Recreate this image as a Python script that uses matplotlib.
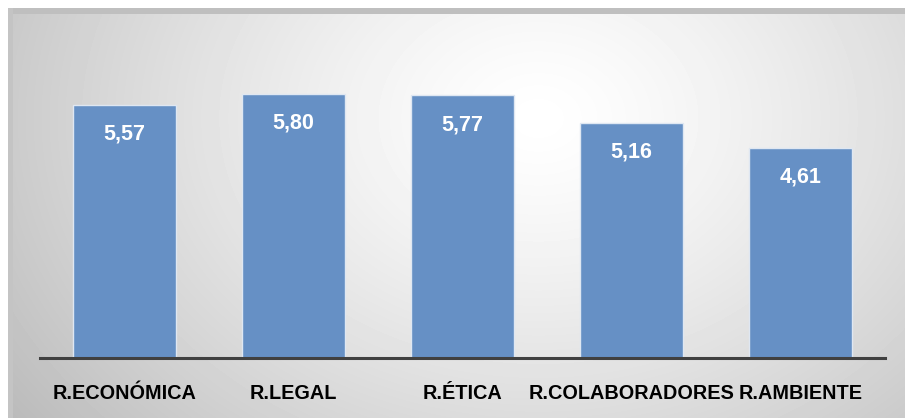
import numpy as np
import matplotlib.pyplot as plt
from matplotlib.patches import Rectangle

categorias = ['R.ECONÓMICA', 'R.LEGAL', 'R.ÉTICA', 'R.COLABORADORES', 'R.AMBIENTE']
valores = [5.57, 5.80, 5.77, 5.16, 4.61]
etiquetas = ['5,57', '5,80', '5,77', '5,16', '4,61']

W, H = 905, 418
fig = plt.figure(figsize=(W / 100, H / 100), dpi=100)
fig.patch.set_facecolor('white')

# fondo con degradado radial
bg = fig.add_axes([8 / W, 0, 1 - 8 / W, 1 - 8 / H])
bg.set_axis_off()
yy, xx = np.mgrid[0:410, 0:897]
d = np.sqrt((xx - 530) ** 2 + ((yy - 110) * 1.3) ** 2)
g = 1 - 0.25 * np.clip(d / 620, 0, 1.2) ** 1.3
bg.imshow(g, cmap='gray', vmin=0, vmax=1, aspect='auto', extent=[0, 897, 410, 0])
bg.set_xlim(0, 897)
bg.set_ylim(410, 0)
bg.add_patch(Rectangle((0, 0), 897, 6, color='#bfbfbf', lw=0))
bg.add_patch(Rectangle((0, 0), 5, 410, color='#c4c4c4', lw=0))

ax = fig.add_axes([40 / W, 60 / H, 845 / W, 318.5 / H])
ax.patch.set_alpha(0)
x = np.arange(len(categorias))
ax.bar(x, valores, width=0.61, color='#6690c5', edgecolor='#dfe7f2', linewidth=1.0)
ax.set_xlim(-0.5, len(categorias) - 0.5)
ax.set_ylim(0, 7)

for i, v in enumerate(valores):
    ax.text(i, v - 0.64, etiquetas[i], ha='center', va='center', color='white',
            fontsize=15.5, fontweight='bold', family='Liberation Sans')

ax.set_xticks(x)
ax.set_xticklabels(categorias, fontsize=14.3, fontweight='bold', family='Liberation Sans')
ax.tick_params(axis='x', length=0, pad=19)
ax.set_yticks([])
for s in ['top', 'right', 'left']:
    ax.spines[s].set_visible(False)
ax.spines['bottom'].set_color('#404040')
ax.spines['bottom'].set_linewidth(2.2)

fig.savefig('out.png', dpi=100)
